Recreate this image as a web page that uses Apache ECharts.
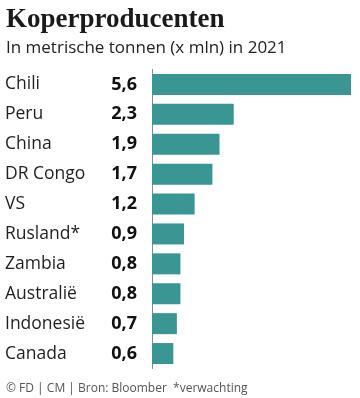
<!DOCTYPE html>
<html><head><meta charset="utf-8">
<script src="https://cdn.jsdelivr.net/npm/echarts@6/dist/echarts.min.js"></script>
<style>html,body{margin:0;padding:0;background:#fff}#c{width:360px;height:398px}</style>
</head><body><div id="c"></div>
<script>
const categories = ['Chili','Peru','China','DR Congo','VS','Rusland*','Zambia','Australië','Indonesië','Canada'];
const values = [5.6, 2.3, 1.9, 1.7, 1.2, 0.9, 0.8, 0.8, 0.7, 0.6];
const fmt = v => v.toFixed(1).replace('.', ',');
const chart = echarts.init(document.getElementById('c'));
chart.setOption({
  animation: false,
  title: [
    {text: 'Koperproducenten', left: 1, top: 2, textStyle: {fontFamily: 'Liberation Serif', fontWeight: 'bold', fontSize: 27, color: '#1a1a1a'}},
    {text: 'In metrische tonnen (x mln) in 2021', left: 1, top: 35, textStyle: {fontFamily: 'Open Sans', fontWeight: 'normal', fontSize: 17, color: '#222'}},
    {text: '© FD | CM | Bron: Bloomber  *verwachting', left: 1, top: 378, textStyle: {fontFamily: 'Open Sans', fontWeight: 'normal', fontSize: 12, color: '#555'}}
  ],
  grid: {left: 152, right: 9, top: 69.5, height: 299, containLabel: false},
  xAxis: {type: 'value', min: 0, max: 5.6, show: false},
  yAxis: {
    type: 'category', data: categories, inverse: true,
    axisLine: {show: true, lineStyle: {color: '#888', width: 1}},
    axisTick: {show: false},
    axisLabel: {
      margin: 15,
      formatter: (name, i) => '{n|' + name + '}{v|' + fmt(values[i]) + '}',
      rich: {
        n: {width: 104, align: 'left', fontFamily: 'Open Sans', fontSize: 17.5, color: '#1f1f1f'},
        v: {width: 28, align: 'right', fontFamily: 'Open Sans', fontWeight: 'bold', fontSize: 18, color: '#111'}
      }
    }
  },
  series: [{type: 'bar', data: values, barWidth: 21, itemStyle: {color: '#3a9693'}}]
});
</script></body></html>
